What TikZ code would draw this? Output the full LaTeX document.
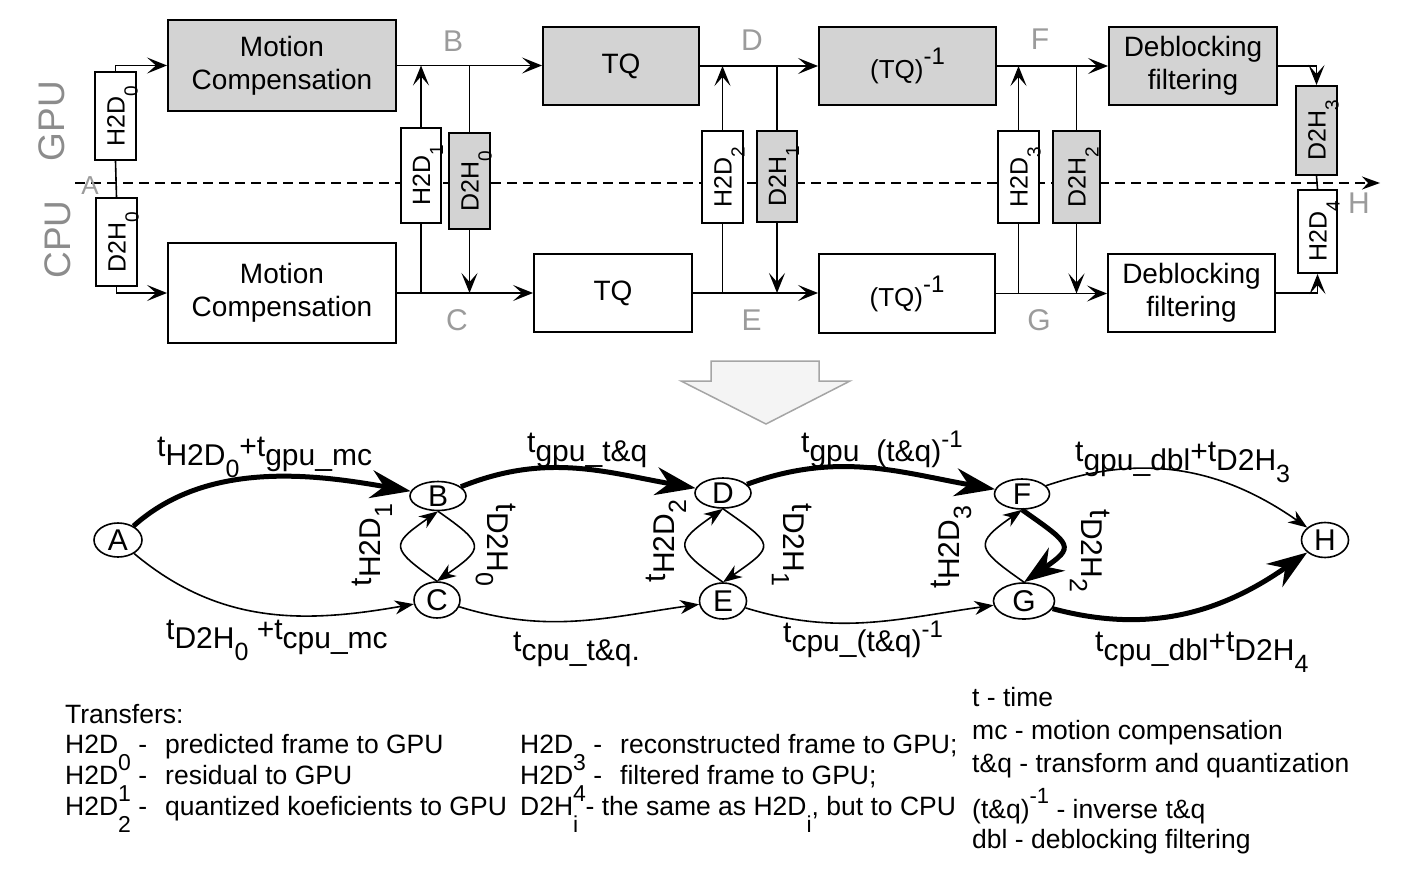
\documentclass[tikz,border=0pt]{standalone}
\usepackage{fontspec}
\setmainfont{Liberation Sans}
\usepackage{graphicx}
\usetikzlibrary{arrows.meta,shapes.geometric,calc}

\definecolor{boxgray}{RGB}{211,211,211}
\definecolor{lblgray}{RGB}{155,155,155}
\definecolor{sidegray}{RGB}{140,140,140}
\definecolor{arrfill}{RGB}{244,244,244}
\definecolor{arrdraw}{RGB}{165,165,165}

\newcommand\fs[1]{\fontsize{#1}{#1}\selectfont}
% transfer box subscript
\newcommand\bs[1]{\raisebox{-13pt}{\fs{19pt}#1}}
% graph labels
\newcommand\T{\raisebox{9pt}{t}}
\newcommand\PT{\raisebox{9pt}{+t}}
\newcommand\gs[1]{\raisebox{-12pt}{\fs{25pt}#1}}
\newcommand\gp[1]{\raisebox{14pt}{\fs{24pt}#1}}
\newcommand\gl[1]{\raisebox{-10.7pt}[0pt][0pt]{#1}}
% legend
\newcommand\ls[1]{\raisebox{-17pt}{\fs{23pt}#1}}
\newcommand\lsup[1]{\raisebox{15pt}{\fs{22pt}#1}}

\tikzset{
  mainbox/.style={draw, line width=2pt, inner sep=0pt, align=center,
    font=\fontsize{28pt}{33pt}\selectfont},
  gpubox/.style={mainbox, fill=boxgray},
  cpubox/.style={mainbox, fill=white},
  xfer/.style={draw, line width=2pt, rotate=90, inner sep=0pt, font=\fs{25pt},
    text height=18pt, text depth=0pt},
  xw/.style={xfer, fill=white},
  xg/.style={xfer, fill=boxgray},
  conn/.style={line width=1.6pt},
  tipT/.style={-{Stealth[length=20pt,width=16pt,inset=9pt]}},
  glet/.style={text=lblgray, font=\fs{30pt}, inner sep=0pt},
  gnode/.style={ellipse, draw, line width=1.6pt, inner sep=0pt, font=\fs{30pt}},
  thn/.style={line width=1.6pt, -{Stealth[length=19pt,width=14pt,inset=6pt]}},
  thk/.style={line width=5pt, -{Stealth[length=40pt,width=28pt,inset=13pt]}},
  glab/.style={inner sep=0pt, font=\fs{30pt}},
  leg/.style={anchor=base west, inner sep=0pt, font=\fs{26.5pt}},
}

\begin{document}
\begin{tikzpicture}[x=1pt,y=1pt]
\useasboundingbox (0,0) rectangle (1410,-869);

% dashed separator
\coordinate (dl0) at (75,-183);
\coordinate (dl1) at (1380,-183);
\draw[line width=1.6pt, dash pattern=on 10pt off 6pt, -{Stealth[length=18pt,width=13pt,inset=6pt]}] (dl0) -- (dl1);

% GPU / CPU labels
\node[rotate=90, text=sidegray, font=\fs{37pt}, inner sep=0pt] (gpu) at (52,-121) {GPU};
\node[rotate=90, text=sidegray, font=\fs{37pt}, inner sep=0pt] (cpu) at (58,-239.5) {CPU};

% main boxes
\node[gpubox, minimum width=228pt, minimum height=91pt] (MCg) at (282,-65.5) {Motion\\Compensation};
\node[cpubox, minimum width=228pt, minimum height=100pt] (MCc) at (282,-293) {Motion\\Compensation};
\node[gpubox, minimum width=156pt, minimum height=78pt] (TQg) at (621,-66) {TQ};
\node[cpubox, minimum width=158pt, minimum height=78pt] (TQc) at (613,-293) {TQ};
\node[gpubox, minimum width=177pt, minimum height=78pt, font=\fs{26pt}] (ITQg) at (907.5,-66) {(TQ)\gp{-1}};
\node[cpubox, minimum width=176pt, minimum height=79pt, font=\fs{26pt}] (ITQc) at (907,-293.5) {(TQ)\gp{-1}};
\node[gpubox, minimum width=168pt, minimum height=78pt] (DBg) at (1193,-66) {Deblocking\\filtering};
\node[cpubox, minimum width=167pt, minimum height=78pt] (DBc) at (1191.5,-293) {Deblocking\\filtering};

% transfer boxes (rotated: east = top, west = bottom)
\node[xw, minimum width=88pt, minimum height=41pt] (x1) at (115.5,-116) {H2D\bs{0}};
\node[xw, minimum width=88pt, minimum height=41pt] (x2) at (116.5,-242) {D2H\bs{0}};
\node[xw, minimum width=95pt, minimum height=40pt] (x3) at (421,-175.5) {H2D\bs{1}};
\node[xg, minimum width=96pt, minimum height=41pt] (x4) at (469.5,-181) {D2H\bs{0}};
\node[xw, minimum width=92pt, minimum height=41pt] (x5) at (722.5,-177) {H2D\bs{2}};
\node[xg, minimum width=91pt, minimum height=40pt] (x6) at (777,-176.5) {D2H\bs{1}};
\node[xw, minimum width=92pt, minimum height=41pt] (x7) at (1018.5,-177) {H2D\bs{3}};
\node[xg, minimum width=92pt, minimum height=47pt] (x8) at (1076.5,-177) {D2H\bs{2}};
\node[xg, minimum width=89pt, minimum height=41pt] (x9) at (1316.5,-130.5) {D2H\bs{3}};
\node[xw, minimum width=83pt, minimum height=39pt] (x10) at (1317.5,-231.5) {H2D\bs{4}};

% connectors (top)
\draw[conn, tipT] (x1.east) |- (MCg.west);
\draw[conn] (x1.west) -- (x2.east);
\draw[conn, tipT] (x2.west) |- (MCc.west);
\draw[conn, tipT] (MCg.east) -- (MCg.east -| TQg.west);
\draw[conn, tipT] (x3.east) -- (x3.east |- MCg.east);
\draw[conn] (x3.west) -- (x3.west |- MCc.east);
\draw[conn] (x4.east |- MCg.east) -- (x4.east);
\draw[conn, tipT] (x4.west) -- (x4.west |- MCc.east);
\draw[conn, tipT] (MCc.east) -- (MCc.east -| TQc.west);
\draw[conn, tipT] (TQg.east) -- (TQg.east -| ITQg.west);
\draw[conn, tipT] (x5.east) -- (x5.east |- TQg.east);
\draw[conn] (x5.west) -- (x5.west |- TQc.east);
\draw[conn] (x6.east |- TQg.east) -- (x6.east);
\draw[conn, tipT] (x6.west) -- (x6.west |- TQc.east);
\draw[conn, tipT] (TQc.east) -- (TQc.east -| ITQc.west);
\draw[conn, tipT] (ITQg.east) -- (ITQg.east -| DBg.west);
\draw[conn, tipT] (x7.east) -- (x7.east |- ITQg.east);
\draw[conn] (x7.west) -- (x7.west |- ITQc.east);
\draw[conn] (x8.east |- ITQg.east) -- (x8.east);
\draw[conn, tipT] (x8.west) -- (x8.west |- ITQc.east);
\draw[conn, tipT] (ITQc.east) -- (ITQc.east -| DBc.west);
\draw[conn, tipT] (DBg.east) -| (x9.east);
\draw[conn] (x9.west) -- (x10.east);
\draw[conn, tipT] (DBc.east) -| (x10.west);

% point letters
\node[glet, font=\fs{26pt}] (lA) at (90,-186) {A};
\node[glet] (lB) at (453,-41.5) {B};
\node[glet] (lC) at (457,-320) {C};
\node[glet] (lD) at (752,-40.5) {D};
\node[glet] (lE) at (751.5,-320) {E};
\node[glet] (lF) at (1040,-39.5) {F};
\node[glet] (lG) at (1039,-320) {G};
\node[glet] (lH) at (1359,-203) {H};

% big hollow arrow
\draw[fill=arrfill, draw=arrdraw, line width=1.5pt, line join=miter]
  (711,-361) -- (819,-361) -- (819,-381) -- (850,-381) -- (766,-424) -- (681,-381) -- (711,-381) -- cycle;

% graph nodes
\node[gnode, minimum width=48pt, minimum height=34pt] (A) at (118,-540) {\gl{A}};
\node[gnode, minimum width=56pt, minimum height=29pt] (B) at (438,-496) {\gl{B}};
\node[gnode, minimum width=46pt, minimum height=36pt] (C) at (437,-600) {\gl{C}};
\node[gnode, minimum width=56pt, minimum height=30pt] (D) at (723,-493) {\gl{D}};
\node[gnode, minimum width=47pt, minimum height=36pt] (E) at (723,-601) {\gl{E}};
\node[gnode, minimum width=55pt, minimum height=30pt] (F) at (1022,-494) {\gl{F}};
\node[gnode, minimum width=61pt, minimum height=36pt] (G) at (1024,-601) {\gl{G}};
\node[gnode, minimum width=47pt, minimum height=35pt] (H) at (1325,-540) {\gl{H}};

% graph edges
\draw[thk] (A) to[out=42,in=170,looseness=0.9] (B);
\draw[thn] (A) to[out=-40,in=190] (C);
\draw[thk] (B) to[out=22,in=170] (D);
\draw[thn] (C) to[out=-17,in=188] (E);
\draw[thk] (D) to[out=20,in=170] (F);
\draw[thn] (E) to[out=-17,in=188] (G);
\draw[thn] (F) to[out=19,in=145] (H);
\draw[thk] (G) to[out=-15,in=215] (H);

\draw[thn] (C.north) to[out=145,in=215,distance=58pt] (B.south);
\draw[thn] (B.south) to[out=-35,in=35,distance=58pt] (C.north);
\draw[thn] (E.north) to[out=145,in=215,distance=60pt] (D.south);
\draw[thn] (D.south) to[out=-35,in=35,distance=64pt] (E.north);
\draw[thn] (G.north) to[out=145,in=215,distance=59pt] (F.south);
\draw[thk] (F.south) to[out=-35,in=35,distance=62pt] (G.north);

% graph labels
\node[glab, anchor=base west] (lab1) at (157,-465) {\T H2D\gs{0}\PT gpu\_mc};
\node[glab, anchor=base west] (lab2) at (166,-648) {\T D2H\gs{0} \PT cpu\_mc};
\node[glab, anchor=base west] (lab3) at (527,-461) {\T gpu\_t\&q};
\node[glab, anchor=base west] (lab4) at (513,-660) {\T cpu\_t\&q.};
\node[glab, anchor=base west] (lab5) at (801,-461) {\T gpu\_(t\&q)\gp{-1}};
\node[glab, anchor=base west] (lab6) at (783,-651) {\T cpu\_(t\&q)\gp{-1}};
\node[glab, anchor=base west] (lab7) at (1075,-470) {\T gpu\_dbl\PT D2H\gs{3}};
\node[glab, anchor=base west] (lab8) at (1095,-660) {\T cpu\_dbl\PT D2H\gs{4}};

\node[glab, rotate=90] (lab9) at (372,-545) {\T H2D\gs{1}};
\node[glab, rotate=-90] (lab10) at (496,-545) {\T D2H\gs{0}};
\node[glab, rotate=90] (lab11) at (666,-541) {\T H2D\gs{2}};
\node[glab, rotate=-90] (lab12) at (792,-545) {\T D2H\gs{1}};
\node[glab, rotate=90] (lab13) at (951,-547) {\T H2D\gs{3}};
\node[glab, rotate=-90] (lab14) at (1090,-551) {\T D2H\gs{2}};

% legend
\node[leg] (t0) at (65,-723) {Transfers:};
\node[leg] (t1a) at (65,-753) {H2D\ls{0} -};
\node[leg] (t1b) at (165,-753) {predicted frame to GPU};
\node[leg] (t2a) at (65,-784) {H2D\ls{1} -};
\node[leg] (t2b) at (165,-784) {residual to GPU};
\node[leg] (t3a) at (65,-815) {H2D\ls{2} -};
\node[leg] (t3b) at (165,-815) {quantized koeficients to GPU};
\node[leg] (t4a) at (520,-753) {H2D\ls{3} -};
\node[leg] (t4b) at (620,-753) {reconstructed frame to GPU;};
\node[leg] (t5a) at (520,-784) {H2D\ls{4} -};
\node[leg] (t5b) at (620,-784) {filtered frame to GPU;};
\node[leg] (t6) at (520,-815) {D2H\ls{i} - the same as H2D\ls{i}, but to CPU};

\node[leg] (r1) at (972,-706) {t - time};
\node[leg] (r2) at (972,-739) {mc - motion compensation};
\node[leg] (r3) at (972,-772) {t\&q - transform and quantization};
\node[leg] (r4) at (972,-818) {(t\&q)\lsup{-1} - inverse t\&q};
\node[leg] (r5) at (972,-848) {dbl - deblocking filtering};
\end{tikzpicture}
\end{document}
